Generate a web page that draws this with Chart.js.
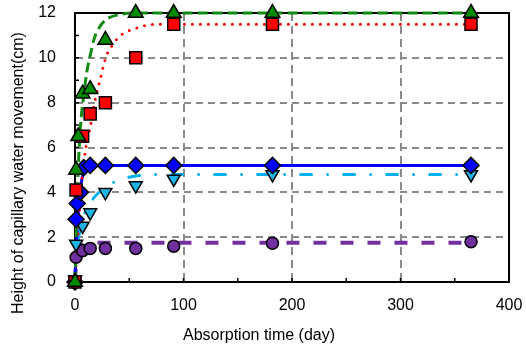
<!DOCTYPE html>
<html>
<head>
<meta charset="utf-8">
<script src="https://cdn.jsdelivr.net/npm/chart.js@4.4.1/dist/chart.umd.min.js"></script>
<style>
  body { margin: 0; background: #fff; }
</style>
</head>
<body>
<canvas id="chart" width="526" height="352"></canvas>
<script>
// measured points (day, height cm)
const greenDays = [0, 1, 3, 7, 14, 28, 56, 91, 182, 365];
const greenHeight = [0, 5.0, 6.5, 8.4, 8.6, 10.8, 12, 12, 12, 12];

const redDays = [0, 1, 7, 14, 28, 56, 91, 182, 365];
const redHeight = [0, 4.1, 6.5, 7.5, 8.0, 10.0, 11.5, 11.5, 11.5];

const blueDays = [0, 1, 2, 5, 8, 14, 28, 56, 91, 182, 365];
const blueHeight = [0, 2.8, 3.5, 4.0, 5.1, 5.2, 5.2, 5.2, 5.2, 5.2, 5.2];

const cyanDays = [0, 1, 7, 14, 28, 56, 91, 182, 365];
const cyanHeight = [0.1, 1.7, 2.5, 3.1, 4.0, 4.3, 4.6, 4.8, 4.8];

const purpleDays = [0, 1, 7, 14, 28, 56, 91, 182, 365];
const purpleHeight = [0, 1.1, 1.4, 1.5, 1.5, 1.5, 1.6, 1.73, 1.8];

// fitted curves
const greenFitDays = [0, 1, 2, 3, 5, 8, 11, 14, 18, 23, 30, 40, 55, 365];
const greenFitHeight = [0, 2.0, 3.7, 5.1, 6.9, 8.3, 9.4, 10.1, 10.9, 11.4, 11.75, 11.92, 12, 12];

const redFitDays = [0, 1, 3, 5, 7, 10, 14, 18, 23, 29, 35, 42, 55, 75, 365];
const redFitHeight = [0, 0.8, 2.3, 3.8, 4.9, 6.0, 6.9, 8.0, 9.0, 10.1, 10.6, 11.0, 11.3, 11.5, 11.5];

const blueFitDays = [0, 1, 2, 3, 4, 6, 9, 12, 20, 365];
const blueFitHeight = [0, 1.4, 2.4, 3.1, 3.7, 4.5, 5.0, 5.15, 5.2, 5.2];

const cyanFitDays = [0, 1, 2, 5, 10, 15, 20, 26, 38, 55, 80, 365];
const cyanFitHeight = [0, 1.0, 1.5, 2.4, 3.2, 3.6, 3.9, 4.15, 4.5, 4.72, 4.8, 4.8];

const purpleFitDays = [0, 1, 3, 6, 10, 20, 365];
const purpleFitHeight = [0, 0.9, 1.4, 1.6, 1.7, 1.75, 1.75];

const xTicks = [0, 100, 200, 300, 400];
const yTicks = [0, 2, 4, 6, 8, 10, 12];

const xTitle = 'Absorption time (day)';
const yTitle = 'Height of capillary water movement(cm)';

const FONT = "'Liberation Sans', Arial, sans-serif";

function pts(xs, ys) {
    return xs.map((x, i) => ({ x: x, y: ys[i] }));
}

function markers(xs, ys, color, style, r, rot) {
    return {
        data: pts(xs, ys),
        showLine: false,
        pointStyle: style,
        pointRotation: rot || 0,
        pointRadius: r,
        pointBackgroundColor: color,
        pointBorderColor: '#000',
        pointBorderWidth: 1.5,
        clip: false
    };
}

function curve(xs, ys, color, width, dash, cap) {
    return {
        data: pts(xs, ys),
        showLine: true,
        pointRadius: 0,
        borderColor: color,
        borderWidth: width,
        borderDash: dash,
        borderCapStyle: cap || 'butt',
        cubicInterpolationMode: 'monotone',
        clip: false
    };
}

// frame + inward tick marks, drawn under the data
const framePlugin = {
    id: 'frame',
    beforeDatasetsDraw(chart) {
        const ctx = chart.ctx;
        const a = chart.chartArea;
        const sx = chart.scales.x;
        const sy = chart.scales.y;
        ctx.save();
        ctx.strokeStyle = '#000';
        ctx.lineWidth = 1.5;
        ctx.beginPath();
        for (let v = 50; v < 400; v += 50) {
            const px = sx.getPixelForValue(v);
            ctx.moveTo(px, a.bottom);
            ctx.lineTo(px, a.bottom - 4);
        }
        for (let v = 1; v < 12; v += 1) {
            const py = sy.getPixelForValue(v);
            ctx.moveTo(a.left, py);
            ctx.lineTo(a.left + 4, py);
        }
        ctx.stroke();
        ctx.lineWidth = 2;
        ctx.strokeRect(a.left, a.top, a.right - a.left, a.bottom - a.top);
        ctx.restore();
    },
    afterDraw(chart) {
        const ctx = chart.ctx;
        ctx.save();
        ctx.fillStyle = '#000';
        ctx.font = '16px ' + FONT;
        ctx.textAlign = 'center';
        ctx.textBaseline = 'middle';
        ctx.fillText(xTitle, 259, 336);
        ctx.translate(19, 173);
        ctx.rotate(-Math.PI / 2);
        ctx.fillText(yTitle, 0, 0);
        ctx.restore();
    }
};

function gridColor(max) {
    return (c) => (c.tick.value === 0 || c.tick.value === max) ? 'rgba(0,0,0,0)' : '#8a8a8a';
}

// no extra room for label overflow: the layout padding alone sets the plot box
function noPad(s) {
    s.paddingTop = 0;
    s.paddingBottom = 0;
    s.paddingLeft = 0;
    s.paddingRight = 0;
}

const datasets = [
    markers(greenDays, greenHeight, '#008a00', 'triangle', 8.5),
    markers(redDays, redHeight, '#ff0000', 'rect', 8.5),
    markers(blueDays, blueHeight, '#0000ff', 'rectRot', 8),
    markers(cyanDays, cyanHeight, '#1fb4e6', 'triangle', 7.5, 180),
    markers(purpleDays, purpleHeight, '#7030a0', 'circle', 6),
    curve(greenFitDays, greenFitHeight, '#108a10', 3, [10, 5]),
    curve(redFitDays, redFitHeight, '#ff0000', 3, [0, 8], 'round'),
    curve(blueFitDays, blueFitHeight, '#0000ff', 3, []),
    curve(cyanFitDays, cyanFitHeight, '#00b0f0', 3, [11, 16, 0, 16], 'round'),
    curve(purpleFitDays, purpleFitHeight, '#7030a0', 4, [13, 14])
];

new Chart(document.getElementById('chart'), {
    type: 'scatter',
    data: { datasets: datasets },
    options: {
        responsive: false,
        animation: false,
        devicePixelRatio: 1,
        layout: { padding: { top: 13, right: 17, left: 0, bottom: 0 } },
        plugins: {
            legend: { display: false },
            tooltip: { enabled: false }
        },
        scales: {
            x: {
                type: 'linear',
                min: 0,
                max: 400,
                afterFit: (s) => { s.height = 70; noPad(s); },
                afterBuildTicks: (s) => { s.ticks = xTicks.map(v => ({ value: v })); },
                ticks: { color: '#000', padding: 14, font: { family: FONT, size: 16 } },
                grid: { color: gridColor(400), lineWidth: 2, drawTicks: false },
                border: { display: true, color: '#000', width: 2, dash: [8, 5] }
            },
            y: {
                type: 'linear',
                min: 0,
                max: 12,
                afterFit: (s) => { s.width = 75; noPad(s); },
                afterBuildTicks: (s) => { s.ticks = yTicks.map(v => ({ value: v })); },
                ticks: { color: '#000', padding: 19, font: { family: FONT, size: 16 } },
                grid: { color: gridColor(12), lineWidth: 2, drawTicks: false },
                border: { display: true, color: '#000', width: 2, dash: [7, 5] }
            }
        }
    },
    plugins: [framePlugin]
});
</script>
</body>
</html>
